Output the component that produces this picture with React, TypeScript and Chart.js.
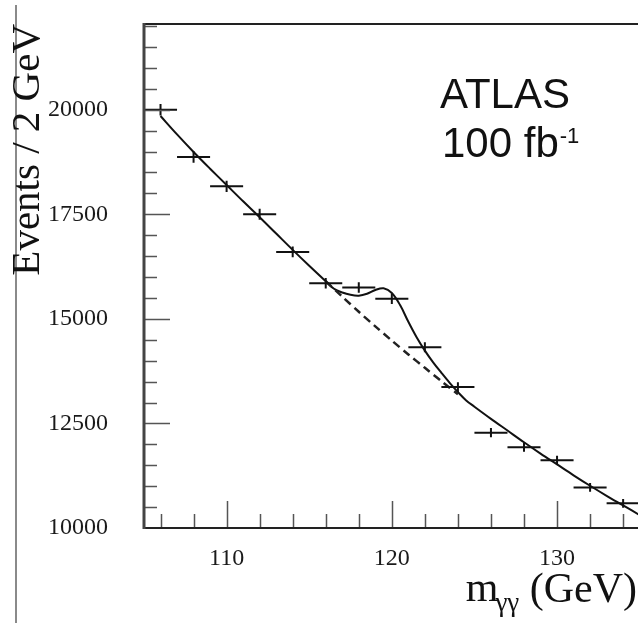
import React, { useEffect, useRef } from 'react';
import { Chart, registerables } from 'chart.js';
Chart.register(...registerables);

// ---- data ----
const binCenters = [106, 108, 110, 112, 114, 116, 118, 120, 122, 124, 126, 128, 130, 132, 134];
const eventCounts = [20000, 18870, 18170, 17500, 16600, 15850, 15750, 15480, 14320, 13370, 12280, 11930, 11620, 10970, 10590];
const countErrors = [140, 137, 135, 132, 129, 126, 125, 124, 120, 116, 111, 109, 108, 105, 103];
const binHalfWidth = 1;

// background-only fit (dashed where it differs from the total fit)
const bgMass = [106, 107, 108, 109, 110, 111, 112, 113, 114, 115, 116, 117, 118, 119, 120, 121, 122, 123, 124, 125, 126, 127, 128, 129, 130, 131, 132, 133, 134, 135];
const bgFit = [19850, 19410, 18990, 18590, 18200, 17810, 17430, 17040, 16650, 16270, 15900, 15530, 15170, 14820, 14480, 14150, 13830, 13510, 13200, 12900, 12610, 12330, 12050, 11780, 11520, 11260, 11010, 10770, 10540, 10310];

// signal + background fit in the peak window
const sigMass = [116.5, 117, 117.5, 118, 118.5, 119, 119.5, 120, 120.5, 121, 121.5, 122, 122.5, 123, 123.5, 124, 124.5];
const sigFit = [15720, 15630, 15575, 15555, 15600, 15690, 15730, 15620, 15330, 14930, 14560, 14240, 13960, 13710, 13470, 13250, 13050];

const yTickValues = [10000, 12500, 15000, 17500, 20000];
const xTickValues = [110, 120, 130];
const yMinorStep = 500;
const xMinorStep = 2;

const X_MIN = 105;
const X_MAX = 134.9;
const Y_MIN = 10000;
const Y_MAX = 22050;

const SERIF = '"Liberation Serif", "Times New Roman", serif';
const SANS = '"Liberation Sans", Arial, sans-serif';

const errorBarPlugin = {
  id: 'errorBars',
  afterDatasetsDraw(chart: any) {
    const { ctx, scales } = chart;
    const xs = scales.x;
    const ys = scales.y;
    ctx.save();
    ctx.strokeStyle = '#111';
    ctx.lineWidth = 2;
    ctx.beginPath();
    binCenters.forEach((m, i) => {
      const y = ys.getPixelForValue(eventCounts[i]);
      const x = xs.getPixelForValue(m);
      ctx.moveTo(xs.getPixelForValue(m - binHalfWidth), y);
      ctx.lineTo(xs.getPixelForValue(m + binHalfWidth), y);
      ctx.moveTo(x, ys.getPixelForValue(eventCounts[i] + countErrors[i]));
      ctx.lineTo(x, ys.getPixelForValue(eventCounts[i] - countErrors[i]));
    });
    ctx.stroke();
    ctx.restore();
  },
};

const framePlugin = {
  id: 'rootFrame',
  afterDraw(chart: any) {
    const { ctx, chartArea, scales } = chart;
    const { left, top, right, bottom } = chartArea;
    const xs = scales.x;
    const ys = scales.y;
    ctx.save();
    // ticks (inside)
    ctx.strokeStyle = '#555';
    ctx.lineWidth = 1.5;
    ctx.beginPath();
    for (let v = Y_MIN + yMinorStep; v <= Y_MAX; v += yMinorStep) {
      const y = Math.round(ys.getPixelForValue(v)) + 0.5;
      const major = yTickValues.includes(v);
      ctx.moveTo(left, y);
      ctx.lineTo(left + (major ? 26 : 13), y);
    }
    for (let v = X_MIN + 1; v <= X_MAX; v += xMinorStep) {
      const x = Math.round(xs.getPixelForValue(v)) + 0.5;
      const major = xTickValues.includes(v);
      ctx.moveTo(x, bottom);
      ctx.lineTo(x, bottom - (major ? 27 : 14));
    }
    ctx.stroke();
    // frame
    ctx.strokeStyle = '#222';
    ctx.lineWidth = 2;
    ctx.beginPath();
    ctx.moveTo(left, top);
    ctx.lineTo(right, top);
    ctx.moveTo(left - 1, bottom);
    ctx.lineTo(right, bottom);
    ctx.stroke();
    ctx.strokeStyle = '#444';
    ctx.lineWidth = 3;
    ctx.beginPath();
    ctx.moveTo(left, top - 1);
    ctx.lineTo(left, bottom + 1);
    ctx.stroke();

    // texts
    ctx.fillStyle = '#111';
    ctx.textBaseline = 'alphabetic';
    ctx.textAlign = 'left';
    ctx.font = `42px ${SANS}`;
    ctx.fillText('ATLAS', left + 296, top + 84);
    ctx.fillText('100 fb', left + 298, top + 133);
    const w = ctx.measureText('100 fb').width;
    ctx.font = `22px ${SANS}`;
    ctx.fillText('-1', left + 298 + w + 1, top + 119);

    // x axis title: m_{γγ} (GeV)
    ctx.font = `42px ${SERIF}`;
    const paren = '(GeV)';
    const pw = ctx.measureText(paren).width;
    const px = right - pw - 1;
    const base = bottom + 74;
    ctx.fillText(paren, px, base);
    const mx = px - 64;
    ctx.fillText('m', mx, base - 1);
    const mw = ctx.measureText('m').width;
    ctx.font = `27px ${SERIF}`;
    ctx.fillText('γγ', mx + mw - 3, base + 9);
    ctx.restore();
  },
};

export default function App() {
  const canvasRef = useRef<HTMLCanvasElement | null>(null);

  useEffect(() => {
    const canvas = canvasRef.current;
    if (!canvas) return;

    const solidPts: { x: number; y: number }[] = [];
    bgMass.forEach((m, i) => {
      if (m <= 116) solidPts.push({ x: m, y: bgFit[i] });
    });
    sigMass.forEach((m, i) => solidPts.push({ x: m, y: sigFit[i] }));
    bgMass.forEach((m, i) => {
      if (m >= 125) solidPts.push({ x: m, y: bgFit[i] });
    });

    const dashedPts = bgMass
      .map((m, i) => ({ x: m, y: bgFit[i] }))
      .filter((p) => p.x >= 116 && p.x <= 124);

    const chart = new Chart(canvas, {
      type: 'scatter',
      data: {
        datasets: [
          {
            label: 'background',
            data: dashedPts,
            showLine: true,
            borderColor: '#222',
            borderWidth: 2.5,
            borderDash: [8, 5],
            pointRadius: 0,
            tension: 0.3,
          },
          {
            label: 'signal + background',
            data: solidPts,
            showLine: true,
            borderColor: '#111',
            borderWidth: 2,
            pointRadius: 0,
            tension: 0.35,
          },
          {
            label: 'data',
            data: binCenters.map((m, i) => ({ x: m, y: eventCounts[i] })),
            showLine: false,
            pointRadius: 0,
          },
        ],
      },
      options: {
        animation: false,
        responsive: false,
        devicePixelRatio: 1,
        layout: { padding: { top: 24, left: 0, right: 0, bottom: 0 } },
        plugins: {
          legend: { display: false },
          tooltip: { enabled: false },
        },
        scales: {
          x: {
            type: 'linear',
            min: X_MIN,
            max: X_MAX,
            grid: { display: false, drawTicks: false },
            border: { display: false },
            afterFit: (s: any) => {
              s.height = 95;
              s.paddingLeft = 0;
              s.paddingRight = 0;
            },
            afterBuildTicks: (s: any) => {
              s.ticks = xTickValues.map((v) => ({ value: v }));
            },
            ticks: {
              padding: 16,
              maxRotation: 0,
              color: '#1a1a1a',
              font: { family: SERIF, size: 24 },
              callback: (v: any) => String(v),
            },
            title: { display: false },
          },
          y: {
            type: 'linear',
            min: Y_MIN,
            max: Y_MAX,
            grid: { display: false, drawTicks: false },
            border: { display: false },
            afterFit: (s: any) => {
              s.width = 144;
              s.paddingTop = 0;
              s.paddingBottom = 0;
            },
            afterBuildTicks: (s: any) => {
              s.ticks = yTickValues.map((v) => ({ value: v }));
            },
            ticks: {
              padding: 36,
              color: '#1a1a1a',
              font: { family: SERIF, size: 24 },
              callback: (v: any) => String(v),
            },
            title: {
              display: true,
              text: 'Events / 2 GeV',
              align: 'end',
              color: '#111',
              font: { family: SERIF, size: 41 },
              padding: { top: 4, bottom: 0 },
            },
          },
        },
      },
      plugins: [errorBarPlugin, framePlugin],
    } as any);

    return () => chart.destroy();
  }, []);

  return (
    <div style={{ position: 'absolute', left: 0, top: 0, width: 638, height: 623, background: '#fff', overflow: 'hidden' }}>
      <div style={{ position: 'absolute', left: 15, top: 5, width: 2, height: 618, background: '#8a8a8a' }} />
      <canvas ref={canvasRef} width={638} height={623} style={{ position: 'absolute', left: 0, top: 0, width: 638, height: 623 }} />
    </div>
  );
}
